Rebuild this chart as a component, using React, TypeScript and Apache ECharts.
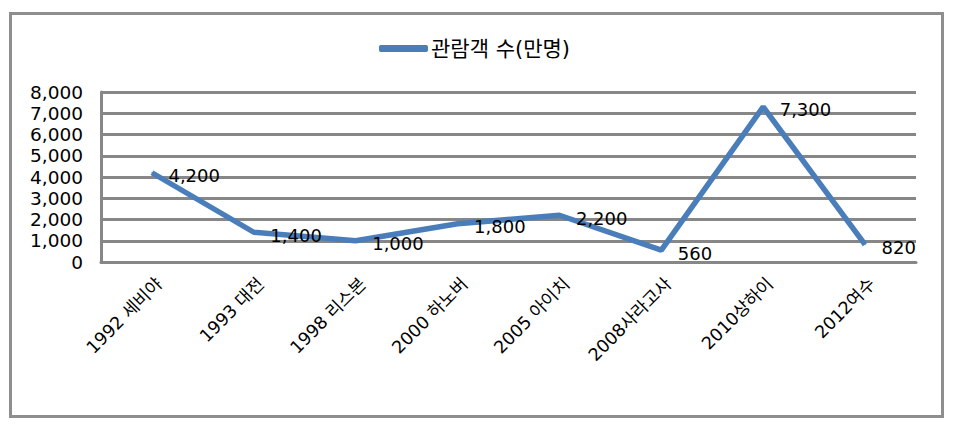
import React, { useEffect, useRef } from "react";
import * as echarts from "echarts";

const categories = [
  "1992 세비야",
  "1993 대전",
  "1998 리스본",
  "2000 하노버",
  "2005 아이치",
  "2008사라고사",
  "2010상하이",
  "2012여수",
];
const seriesName = "관람객 수(만명)";
const visitors = [4200, 1400, 1000, 1800, 2200, 560, 7300, 820];
const yMin = 0;
const yMax = 8000;
const yStep = 1000;

export default function App() {
  const ref = useRef<HTMLDivElement>(null);
  useEffect(() => {
    if (!ref.current) return;
    const chart = echarts.init(ref.current, null, { renderer: "svg" });
    const gray = "#878787";
    const font = "'DejaVu Sans', 'Noto Sans CJK KR', sans-serif";
    chart.setOption({
      animation: false,
      backgroundColor: "#ffffff",
      textStyle: { fontFamily: font, color: "#000" },
      graphic: [
        {
          type: "rect",
          shape: { x: 10.5, y: 13.5, width: 932, height: 403 },
          style: { fill: "none", stroke: "#8e8e8e", lineWidth: 3 },
          silent: true,
        },
      ],
      legend: {
        top: 33,
        left: 374,
        icon: "roundRect",
        itemWidth: 49,
        itemHeight: 7,
        itemGap: 6,
        textStyle: { fontSize: 21, color: "#000", fontFamily: font, padding: [0, 0, 0, -2] },
        data: [seriesName],
      },
      grid: { left: 101, right: 41, top: 92, bottom: 166, containLabel: false },
      xAxis: {
        type: "category",
        data: categories,
        boundaryGap: true,
        axisLine: { show: true, lineStyle: { color: gray, width: 3 } },
        axisTick: { show: false },
        axisLabel: {
          rotate: 45,
          fontSize: 17.5,
          color: "#000",
          margin: 26,
          interval: 0,
          fontFamily: font,
          padding: [0, -10, 0, 0],
        },
      },
      yAxis: {
        type: "value",
        min: yMin,
        max: yMax,
        interval: yStep,
        axisLine: { show: true, lineStyle: { color: gray, width: 3 } },
        axisTick: { show: false },
        splitLine: { show: true, lineStyle: { color: gray, width: 3 } },
        axisLabel: {
          fontSize: 18.5,
          color: "#000",
          margin: 18,
          fontFamily: font,
          formatter: (v: number) => v.toLocaleString("en-US"),
        },
      },
      series: [
        {
          name: seriesName,
          type: "line",
          data: visitors,
          symbol: "circle",
          symbolSize: 1,
          showSymbol: true,
          color: "#4a7ebb",
          lineStyle: { color: "#4a7ebb", width: 5.5 },
          itemStyle: { color: "#4a7ebb" },
          label: {
            show: true,
            position: "right",
            distance: 16,
            fontSize: 18,
            color: "#000",
            fontFamily: font,
            offset: [0, 3],
            formatter: (p: any) => Number(p.value).toLocaleString("en-US"),
          },
        },
      ],
    });
    return () => chart.dispose();
  }, []);
  return (
    <div
      ref={ref}
      style={{ position: "absolute", left: 0, top: 0, width: 957, height: 428 }}
    />
  );
}
